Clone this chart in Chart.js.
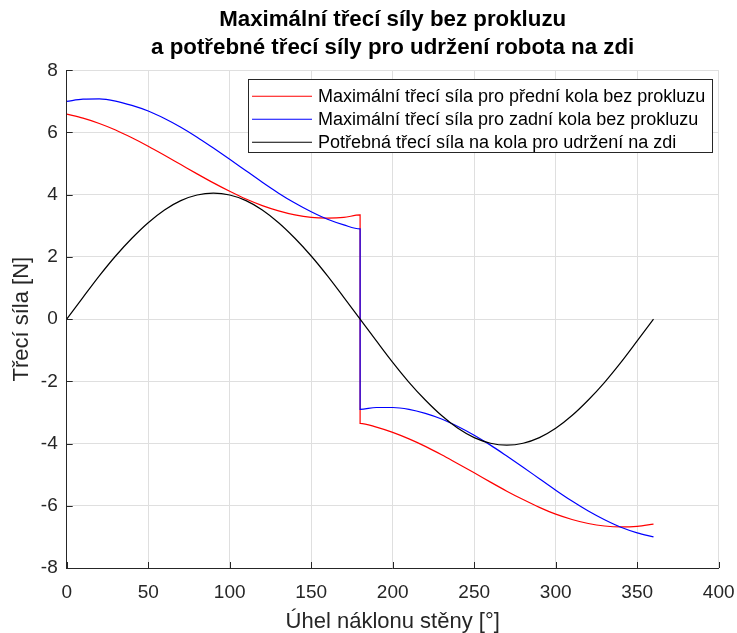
<!DOCTYPE html>
<html>
<head>
<meta charset="utf-8">
<script src="https://cdn.jsdelivr.net/npm/chart.js@4"></script>
<style>
  body { margin: 0; background: #fff; }
  canvas { display: block; }
</style>
</head>
<body>
<canvas id="chart" width="737" height="633"></canvas>
<script>
// angle of the wall [deg]
const angles = [0, 10, 20, 30, 40, 50, 60, 70, 80, 90, 100, 110, 120, 130, 140, 150, 160, 170, 180,
  190, 200, 210, 220, 230, 240, 250, 260, 270, 280, 290, 300, 310, 320, 330, 340, 350, 360];

// front wheels, 0..180 and 180..360
const frontMax = [6.59, 6.46, 6.29, 6.08, 5.83, 5.56, 5.27, 4.97, 4.67, 4.38, 4.11, 3.86, 3.65, 3.48, 3.35, 3.27, 3.25, 3.27, 3.35];
const frontMaxAfter = [-3.35, -3.47, -3.64, -3.85, -4.09, -4.36, -4.65, -4.94, -5.24, -5.53, -5.80, -6.05, -6.27, -6.44, -6.57, -6.65, -6.68, -6.66, -6.59];

// rear wheels, 0..180 and 180..360
const rearMax = [7.00, 7.07, 7.08, 7.01, 6.87, 6.69, 6.45, 6.17, 5.85, 5.50, 5.14, 4.77, 4.40, 4.05, 3.73, 3.45, 3.21, 3.03, 2.90];
const rearMaxAfter = [-2.90, -2.84, -2.84, -2.90, -3.03, -3.21, -3.45, -3.73, -4.05, -4.40, -4.76, -5.13, -5.50, -5.85, -6.17, -6.45, -6.69, -6.87, -7.00];

// needed friction force
const needed = [0, 0.70, 1.39, 2.03, 2.60, 3.10, 3.51, 3.81, 3.99, 4.05, 3.99, 3.81, 3.51, 3.10, 2.60, 2.03, 1.39, 0.70, 0,
  -0.70, -1.39, -2.03, -2.60, -3.10, -3.51, -3.81, -3.99, -4.05, -3.99, -3.81, -3.51, -3.10, -2.60, -2.03, -1.39, -0.70, 0];

const xTicks = [0, 50, 100, 150, 200, 250, 300, 350, 400];
const yTicks = [-8, -6, -4, -2, 0, 2, 4, 6, 8];

const labels = [
  'Maximální třecí síla pro přední kola bez prokluzu',
  'Maximální třecí síla pro zadní kola bez prokluzu',
  'Potřebná třecí síla na kola pro udržení na zdi'
];

const FONT = '"Liberation Sans", Arial, Helvetica, sans-serif';
const AXIS = '#262626';

// both halves share the point at 180, so the jump is drawn as a vertical line
function joined(before, after) {
  const first = angles.slice(0, 19).map((a, i) => ({ x: a, y: before[i] }));
  const second = angles.slice(18).map((a, i) => ({ x: a, y: after[i] }));
  return first.concat(second);
}

const innerTicks = {
  id: 'innerTicks',
  afterDatasetsDraw(chart) {
    const { ctx, scales: { x, y }, chartArea } = chart;
    ctx.save();
    ctx.strokeStyle = AXIS;
    ctx.lineWidth = 1;
    ctx.beginPath();
    xTicks.forEach(v => {
      const px = Math.round(x.getPixelForValue(v)) + 0.5;
      ctx.moveTo(px, chartArea.bottom);
      ctx.lineTo(px, chartArea.bottom - 6);
    });
    yTicks.forEach(v => {
      const py = Math.round(y.getPixelForValue(v)) + 0.5;
      ctx.moveTo(chartArea.left, py);
      ctx.lineTo(chartArea.left + 6, py);
    });
    ctx.stroke();
    ctx.restore();
  }
};

const boxLegend = {
  id: 'boxLegend',
  afterDraw(chart) {
    const { ctx, chartArea } = chart;
    const sets = chart.data.datasets;
    ctx.save();
    ctx.font = '18px ' + FONT;
    const textW = Math.max(...sets.map(d => ctx.measureText(d.label).width));
    const w = 4 + 60 + 6 + textW + 7;
    const h = 73;
    const right = chartArea.right - 6.5;
    const left = right - w;
    const top = chartArea.top + 9;
    ctx.fillStyle = '#fff';
    ctx.fillRect(left, top, w, h);
    ctx.strokeStyle = AXIS;
    ctx.lineWidth = 1;
    ctx.strokeRect(Math.round(left) + 0.5, Math.round(top) + 0.5, Math.round(w), h);
    sets.forEach((d, i) => {
      const cy = top + 17 + i * 23;
      ctx.strokeStyle = d.borderColor;
      ctx.lineWidth = 1.2;
      ctx.beginPath();
      ctx.moveTo(left + 4, cy);
      ctx.lineTo(left + 64, cy);
      ctx.stroke();
      ctx.fillStyle = '#000';
      ctx.textBaseline = 'middle';
      ctx.fillText(d.label, left + 70, cy + 1);
    });
    ctx.restore();
  }
};

new Chart(document.getElementById('chart'), {
  type: 'line',
  data: {
    datasets: [
      { label: labels[0], data: joined(frontMax, frontMaxAfter), borderColor: '#ff0000', order: 3 },
      { label: labels[1], data: joined(rearMax, rearMaxAfter), borderColor: '#0000ff', order: 2 },
      { label: labels[2], data: angles.map((a, i) => ({ x: a, y: needed[i] })), borderColor: '#000000', order: 1 }
    ]
  },
  options: {
    responsive: false,
    animation: false,
    devicePixelRatio: 1,
    events: [],
    elements: {
      line: { borderWidth: 1.2, cubicInterpolationMode: 'monotone', fill: false },
      point: { radius: 0 }
    },
    layout: { padding: { top: 4, right: 0, bottom: 0, left: 0 } },
    plugins: {
      legend: { display: false },
      tooltip: { enabled: false },
      title: {
        display: true,
        fullSize: false,
        text: ['Maximální třecí síly bez prokluzu', 'a potřebné třecí síly pro udržení robota na zdi'],
        color: '#000',
        font: { family: FONT, size: 22.3, weight: 'bold', lineHeight: 1.255 },
        padding: { top: 2, bottom: 8.3 }
      }
    },
    scales: {
      x: {
        type: 'linear',
        min: 0,
        max: 400,
        afterBuildTicks: s => { s.ticks = xTicks.map(v => ({ value: v })); },
        afterFit: s => { s.height = 65; s.paddingRight = 18.3; s.paddingLeft = 0; },
        ticks: { color: AXIS, font: { family: FONT, size: 19 }, padding: 13, maxRotation: 0 },
        grid: { color: '#dfdfdf', drawTicks: false },
        border: { color: AXIS, width: 1 },
        title: {
          display: true,
          text: 'Úhel náklonu stěny [°]',
          color: AXIS,
          font: { family: FONT, size: 22, lineHeight: 1.0 },
          padding: { top: 0, bottom: 0.5 }
        }
      },
      y: {
        type: 'linear',
        min: -8,
        max: 8,
        afterBuildTicks: s => { s.ticks = yTicks.map(v => ({ value: v })); },
        afterFit: s => { s.width = 66.7; },
        ticks: { color: AXIS, font: { family: FONT, size: 19 }, padding: 9 },
        grid: { color: '#dfdfdf', drawTicks: false },
        border: { color: AXIS, width: 1 },
        title: {
          display: true,
          text: 'Třecí síla [N]',
          color: AXIS,
          font: { family: FONT, size: 22, lineHeight: 1.0 },
          padding: { top: 11, bottom: 0 }
        }
      }
    }
  },
  plugins: [innerTicks, boxLegend]
});
</script>
</body>
</html>
